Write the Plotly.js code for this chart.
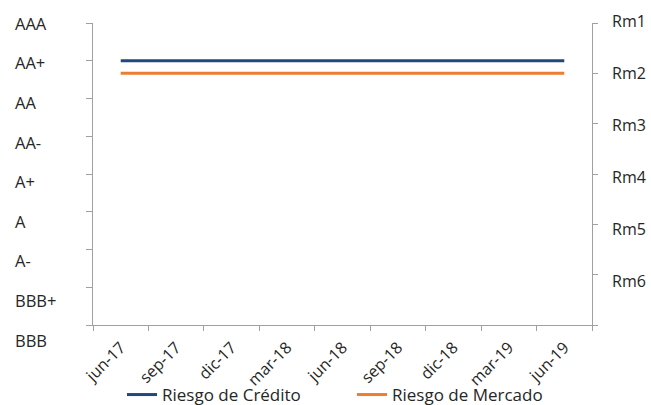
<!DOCTYPE html>
<html>
<head>
<meta charset="utf-8">
<script src="https://cdn.plot.ly/plotly-3.0.1.min.js"></script>
<style>html,body{margin:0;padding:0;background:#fff;}#chart{width:651px;height:405px;}</style>
</head>
<body>
<div id="chart"></div>
<script>
// ---- data ----
const quarters = ['jun-17','sep-17','dic-17','mar-18','jun-18','sep-18','dic-18','mar-19','jun-19'];
const creditRating = ['AA+','AA+','AA+','AA+','AA+','AA+','AA+','AA+','AA+'];
const marketRisk = ['Rm2','Rm2','Rm2','Rm2','Rm2','Rm2','Rm2','Rm2','Rm2'];
const ratingLabels = ['AAA','AA+','AA','AA-','A+','A','A-','BBB+','BBB'];
const rmLabels = ['Rm1','Rm2','Rm3','Rm4','Rm5','Rm6'];
const seriesNames = ['Riesgo de Crédito','Riesgo de Mercado'];

const FONT = 'Open Sans, Noto Sans, sans-serif';
const TXT = '#262626';
const AX = '#a0a0a0';

const creditY = creditRating.map(r => ratingLabels.indexOf(r));
const marketY = marketRisk.map(r => rmLabels.indexOf(r));
const ratingIdx = ratingLabels.map((_, i) => i);
const rmIdx = rmLabels.map((_, i) => i);

const traces = [
  {x: quarters, y: creditY, name: seriesNames[0], type: 'scatter', mode: 'lines',
   line: {color: '#1F497D', width: 3}, xaxis: 'x', yaxis: 'y', hoverinfo: 'skip'},
  {x: quarters, y: marketY, name: seriesNames[1], type: 'scatter', mode: 'lines',
   line: {color: '#ED7D31', width: 3}, xaxis: 'x', yaxis: 'y2', hoverinfo: 'skip'},
  {x: [quarters[0]], y: [0], xaxis: 'x', yaxis: 'y3', mode: 'markers', marker: {opacity: 0},
   showlegend: false, hoverinfo: 'skip'},
  {x: [quarters[0]], y: [0], xaxis: 'x', yaxis: 'y4', mode: 'markers', marker: {opacity: 0},
   showlegend: false, hoverinfo: 'skip'}
];

const W = 651, H = 405, ML = 5, MR = 5, MT = 18, MB = 59;
const pw = W - ML - MR, ph = H - MT - MB;
const px2x = p => (p - ML) / pw;
const py2y = p => (H - MB - p) / ph;

const mainDomain = [py2y(325), py2y(23)];

const layout = {
  width: W, height: H,
  margin: {l: ML, r: MR, t: MT, b: MB, pad: 0},
  paper_bgcolor: '#fff', plot_bgcolor: 'rgba(0,0,0,0)',
  font: {family: FONT, size: 15, color: TXT},
  showlegend: true,
  legend: {orientation: 'h', xref: 'container', yref: 'container', x: 122/W, y: (H-395)/H,
           xanchor: 'left', yanchor: 'middle', font: {size: 17, color: TXT}, traceorder: 'normal',
           entrywidth: 185, entrywidthmode: 'pixels', bgcolor: 'rgba(0,0,0,0)'},
  xaxis: {type: 'category', domain: [px2x(93), px2x(592)], anchor: 'y', range: [-0.5, quarters.length - 0.5],
          tickson: 'boundaries', ticks: 'outside', ticklen: 5, tickcolor: AX, showline: true, linecolor: AX,
          linewidth: 1, showgrid: false, zeroline: false, tickangle: -45, ticklabelstandoff: 6,
          tickfont: {size: 16, color: TXT}},
  yaxis: {domain: mainDomain, anchor: 'x', range: [ratingLabels.length - 1, 0], tickvals: ratingIdx,
          showticklabels: false, ticks: 'outside', ticklen: 6, tickcolor: AX, showline: true, linecolor: AX,
          showgrid: false, zeroline: false},
  yaxis2: {domain: mainDomain, anchor: 'x', overlaying: 'y', side: 'right', range: [rmLabels.length, 0],
           tickvals: rmIdx.concat([rmLabels.length]), showticklabels: false, ticks: 'outside', ticklen: 5,
           tickcolor: AX, showline: true, linecolor: AX, showgrid: false, zeroline: false},
  yaxis3: {domain: [0, 1], anchor: 'free', position: px2x(14), side: 'right', range: [8.131, -0.1515],
           tickmode: 'array', tickvals: ratingIdx, ticktext: ratingLabels, ticks: '', showline: false,
           showgrid: false, zeroline: false, tickfont: {size: 16.5, color: TXT}},
  yaxis4: {domain: [0, 1], anchor: 'free', position: px2x(611), side: 'right', range: [6.25, -0.0577],
           tickmode: 'array', tickvals: rmIdx, ticktext: rmLabels, ticks: '', showline: false,
           showgrid: false, zeroline: false, tickfont: {size: 16, color: TXT}}
};

Plotly.newPlot('chart', traces, layout, {displayModeBar: false, staticPlot: true});
</script>
</body>
</html>
